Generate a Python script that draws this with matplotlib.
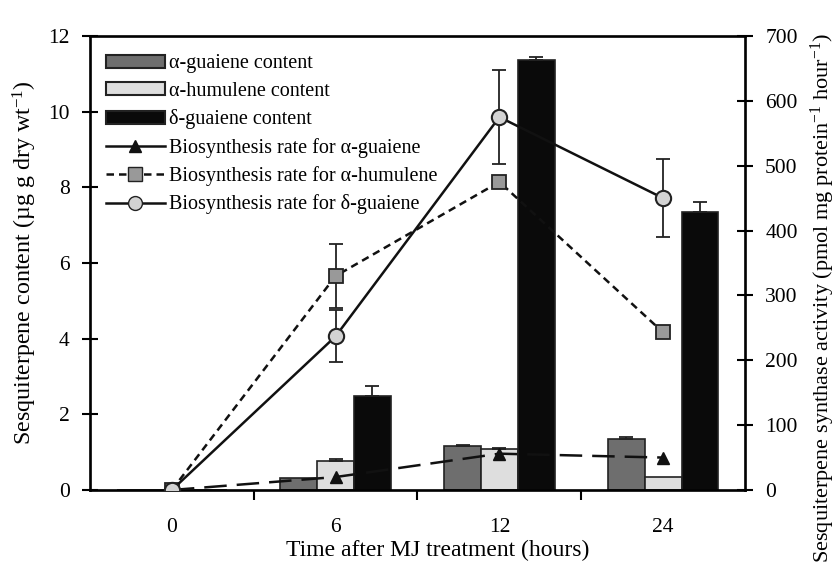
import matplotlib
matplotlib.use('Agg')
import matplotlib.pyplot as plt
import numpy as np
from matplotlib.patches import Patch
from matplotlib.lines import Line2D

plt.rcParams['font.family'] = ['Liberation Serif', 'DejaVu Serif']
plt.rcParams['mathtext.fontset'] = 'custom'
plt.rcParams['mathtext.rm'] = 'Liberation Serif'
plt.rcParams['mathtext.it'] = 'Liberation Serif:italic'

times = ['0', '6', '12', '24']
guaiene_content = [0, 0.32, 1.16, 1.35]
guaiene_err = [0, 0, 0.02, 0.05]
humulene_content = [0, 0.77, 1.08, 0.34]
humulene_err = [0, 0.05, 0.04, 0]
delta_content = [0, 2.48, 11.37, 7.35]
delta_err = [0, 0.27, 0.08, 0.26]
rate_guaiene = [0, 20, 56, 50]
rate_humulene = [0, 330, 475, 243]
rate_humulene_err = [0, 50, 0, 0]
rate_delta = [0, 237, 575, 450]
rate_delta_err = [0, 40, 72, 60]

c_g, c_h, c_d = '#6e6e6e', '#dedede', '#0a0a0a'
EC = '#222222'

fig = plt.figure(figsize=(8.37, 5.71), dpi=100)
ax = fig.add_axes([90/837, 1-490/571, (745-90)/837, (490-36)/571])
x = np.arange(len(times))
w = 0.225


def up_err(axis, xpos, vals, errs):
    vals = np.asarray(vals, float)
    errs = np.asarray(errs, float)
    m = errs > 0
    axis.errorbar(np.asarray(xpos)[m], vals[m], yerr=[np.zeros(m.sum()), errs[m]],
                  fmt='none', ecolor=EC, elinewidth=1.3, capthick=1.3, capsize=5, zorder=3)


def both_err(axis, xpos, vals, errs, z):
    vals = np.asarray(vals, float)
    errs = np.asarray(errs, float)
    m = errs > 0
    axis.errorbar(np.asarray(xpos)[m], vals[m], yerr=errs[m],
                  fmt='none', ecolor=EC, elinewidth=1.3, capthick=1.3, capsize=5, zorder=z)


ax.bar(x - w, guaiene_content, w, color=c_g, edgecolor=EC, linewidth=1.2, zorder=2)
ax.bar(x, humulene_content, w, color=c_h, edgecolor=EC, linewidth=1.2, zorder=2)
ax.bar(x + w, delta_content, w, color=c_d, edgecolor=EC, linewidth=1.2, zorder=2)
up_err(ax, x - w, guaiene_content, guaiene_err)
up_err(ax, x, humulene_content, humulene_err)
up_err(ax, x + w, delta_content, delta_err)

ax.set_xlim(-0.5, 3.5)
ax.set_ylim(0, 12)
ax.set_yticks(range(0, 13, 2))
ax.set_xticks(x)
ax.set_xticklabels(times)
ax.set_xticks([0.5, 1.5, 2.5], minor=True)
ax.tick_params(axis='x', which='major', length=0, pad=20, labelsize=15.5)
ax.tick_params(axis='x', which='minor', length=7, width=1.5, direction='out')
ax.tick_params(axis='y', direction='inout', length=11, width=1.5, pad=9, labelsize=15.5)
for s in ax.spines.values():
    s.set_linewidth(1.9)
ax.set_xlabel('Time after MJ treatment (hours)', fontsize=17)
ax.xaxis.set_label_coords((438 - 90) / 655, -(550 - 490) / 454, transform=ax.transAxes)
ax.xaxis.label.set_va('center')
ax.set_ylabel(r'Sesquiterpene content (µg g dry wt$^{-1}$)', fontsize=17.3)
ax.yaxis.set_label_coords(-(90 - 25) / 655, 0.5, transform=ax.transAxes)
ax.yaxis.label.set_va('center')

ax2 = ax.twinx()
ax2.set_ylim(0, 700)
ax2.set_yticks(range(0, 701, 100))
ax2.tick_params(axis='y', direction='inout', length=11, width=1.5, pad=9, labelsize=15.5)
ax2.plot(x, rate_guaiene, color='#111111', lw=1.8, linestyle=(0, (9, 4)),
         marker='^', ms=9, mfc='#111111', mec='#111111', zorder=3)
both_err(ax2, x, rate_humulene, rate_humulene_err, 4)
ax2.plot(x, rate_humulene, color='#111111', lw=1.8,
         linestyle=(0, (3, 2)), marker='s', ms=10, mfc='#999999', mec=EC,
         mew=1.3, zorder=4)
both_err(ax2, x, rate_delta, rate_delta_err, 5)
ax2.plot(x, rate_delta, color='#111111', lw=1.8,
         marker='o', ms=11, mfc='#d3d3d3', mec=EC, mew=1.5, zorder=5)
ax2.set_ylabel(r'Sesquiterpene synthase activity (pmol mg protein$^{-1}$ hour$^{-1}$)',
               fontsize=16)
ax2.yaxis.set_label_coords((823 - 90) / 655, (490 - 298) / 454, transform=ax.transAxes)
ax2.yaxis.label.set_va('center')

handles = [
    Patch(facecolor=c_g, edgecolor=EC, linewidth=1.5),
    Patch(facecolor=c_h, edgecolor=EC, linewidth=1.5),
    Patch(facecolor=c_d, edgecolor=EC, linewidth=1.5),
    Line2D([], [], color='#111111', lw=1.8, marker='^', ms=9, mfc='#111111'),
    Line2D([], [], color='#111111', lw=1.8, linestyle=(0, (3, 2)), marker='s', ms=10,
           mfc='#999999', mec=EC),
    Line2D([], [], color='#111111', lw=1.8, marker='o', ms=10, mfc='#d3d3d3', mec=EC),
]
labels = ['α-guaiene content', 'α-humulene content', 'δ-guaiene content',
          'Biosynthesis rate for α-guaiene', 'Biosynthesis rate for α-humulene',
          'Biosynthesis rate for δ-guaiene']
ax2.legend(handles, labels, loc='upper left', bbox_to_anchor=(0.0, 0.995), frameon=False,
           fontsize=14.5, handlelength=2.9, handleheight=0.6, handletextpad=0.2,
           labelspacing=0.42, numpoints=1, borderaxespad=0.4)

fig.savefig('out.png', dpi=100)
